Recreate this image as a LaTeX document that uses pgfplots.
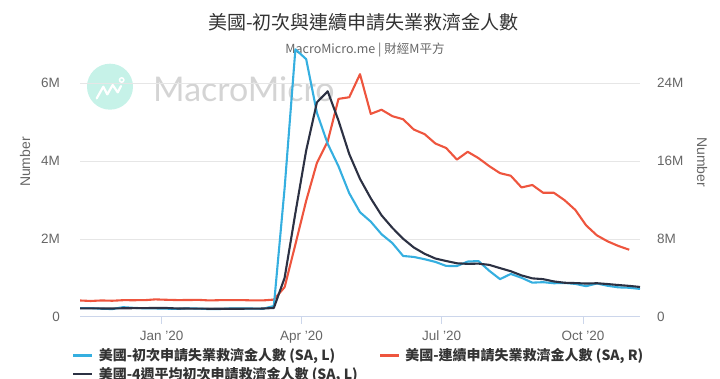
\documentclass[border=0pt]{standalone}
\usepackage{fontspec}
\setmainfont{Liberation Sans}
\newfontfamily\cjk{Noto Sans CJK TC}
\newfontfamily\wm{Lato}
\usepackage{pgfplots}
\usepackage{pgfplotstable}
\pgfplotsset{compat=1.18}
\definecolor{cblue}{HTML}{35AFE0}
\definecolor{cred}{HTML}{EE553E}
\definecolor{cblack}{HTML}{2C3143}
\definecolor{cgrid}{HTML}{E6E6E6}
\definecolor{caxis}{HTML}{CCD6EB}
\definecolor{c666}{HTML}{666666}
\definecolor{c333}{HTML}{333333}
\definecolor{wmgreen}{HTML}{C6F2E8}
\definecolor{wmgray}{HTML}{D4D4D4}

\pgfplotstableread{
d init avg
-53 0.227 0.221
-46 0.228 0.221
-39 0.213 0.219
-32 0.203 0.218
-25 0.252 0.224
-18 0.234 0.226
-11 0.222 0.228
-4 0.220 0.232
3 0.214 0.231
10 0.207 0.219
17 0.223 0.217
24 0.216 0.215
31 0.203 0.212
38 0.205 0.212
45 0.219 0.211
52 0.219 0.212
59 0.217 0.215
66 0.211 0.217
73 0.282 0.232
80 3.307 1.005
87 6.867 2.667
94 6.615 4.268
101 5.237 5.506
108 4.442 5.790
115 3.867 5.040
122 3.176 4.180
129 2.687 3.543
136 2.446 3.044
143 2.123 2.608
150 1.897 2.288
157 1.566 2.008
164 1.540 1.782
171 1.482 1.621
178 1.413 1.500
185 1.310 1.436
192 1.307 1.378
199 1.422 1.363
206 1.435 1.369
213 1.186 1.337
220 0.971 1.254
227 1.104 1.174
234 1.006 1.067
241 0.881 0.991
248 0.893 0.971
255 0.866 0.912
262 0.873 0.878
269 0.849 0.870
276 0.790 0.858
283 0.860 0.866
290 0.800 0.845
297 0.760 0.820
304 0.750 0.798
311 0.720 0.770
}\leftdata

\pgfplotstableread{
d cont
-53 1.693
-46 1.644
-39 1.697
-32 1.667
-25 1.725
-18 1.722
-11 1.728
-4 1.805
3 1.768
10 1.737
17 1.740
24 1.759
31 1.698
38 1.727
45 1.724
52 1.734
59 1.703
66 1.702
73 1.784
80 3.059
87 7.446
94 11.914
101 15.819
108 18.011
115 22.377
122 22.548
129 24.912
136 20.838
143 21.268
150 20.606
157 20.289
164 19.231
171 18.760
178 17.800
185 17.338
192 16.151
199 16.951
206 16.300
213 15.480
220 14.759
227 14.492
234 13.292
241 13.544
248 12.747
255 12.747
262 11.979
269 10.976
276 9.397
283 8.373
290 7.756
297 7.285
304 6.900
}\rightdata

\begin{document}
\begin{tikzpicture}
\path[use as bounding box] (0pt,0pt) rectangle (720pt,379pt);
% watermark
\fill[wmgreen] (110pt,292.3pt) circle (23pt);
\draw[white, line width=2.2pt, line join=round, line cap=round]
  (96.7pt,280.6pt) -- (103.3pt,292.3pt) -- (107.3pt,284.6pt) -- (112.7pt,294pt) -- (117.7pt,286.6pt) -- (121pt,293pt);
\draw[white, line width=1.5pt] (121.7pt,299pt) circle (2.2pt);
\node[anchor=west, inner sep=0pt, font=\wm\fontsize{34}{38}\selectfont, text=wmgray] at (153pt,290pt) {MacroMicro};
% titles
\node[font=\cjk\fontsize{19}{22}\selectfont, text=c333] at (363.5pt,357pt) {美國-初次與連續申請失業救濟金人數};
\node[font=\cjk\fontsize{12.5}{14}\selectfont, text=c666] at (365pt,329pt) {MacroMicro.me | 財經M平方};

% right axis (continued claims)
\begin{axis}[
  at={(80pt,62pt)}, anchor=south west, scale only axis,
  width=560pt, height=269pt,
  xmin=-53, xmax=311, ymin=0, ymax=27.6,
  axis x line=none, axis y line*=right,
  y axis line style={draw=none},
  xtick=\empty,
  ytick={0,8,16,24}, yticklabels={0,8M,16M,24M},
  ytick style={draw=none},
  ymajorgrids, grid style={draw=cgrid, line width=1pt},
  yticklabel style={anchor=west, inner sep=0pt, xshift=17pt, font=\fontsize{13.5}{15}\selectfont, text=c666},
  ylabel={Number},
  ylabel style={at={(axis description cs:1.111,0.576)}, anchor=center, rotate=180, font=\fontsize{14}{16}\selectfont, text=c666},
]
\addplot[cred, line width=2.1pt, line join=round] table[x=d, y=cont] {\rightdata};
\end{axis}

% left axis (initial claims)
\begin{axis}[
  at={(80pt,62pt)}, anchor=south west, scale only axis,
  width=560pt, height=269pt,
  xmin=-53, xmax=311, ymin=0, ymax=6.9,
  axis x line*=bottom, axis y line*=left,
  x axis line style={draw=caxis, line width=1pt},
  y axis line style={draw=none},
  xtick={0,91,182,274}, xticklabels={Jan {\char"27}20, Apr {\char"27}20, Jul {\char"27}20, Oct {\char"27}20},
  xtick align=outside, major tick length=7pt,
  xtick style={draw=caxis, line width=1pt},
  xticklabel style={anchor=north, inner sep=0pt, yshift=-7pt, font=\fontsize{13.5}{15}\selectfont, text=c666},
  ytick={0,2,4,6}, yticklabels={0,2M,4M,6M},
  ytick style={draw=none},
  yticklabel style={anchor=east, inner sep=0pt, xshift=-20pt, font=\fontsize{13.5}{15}\selectfont, text=c666},
  ylabel={Number},
  ylabel style={at={(axis description cs:-0.0982,0.576)}, anchor=center, font=\fontsize{14}{16}\selectfont, text=c666},
  legend columns=2,
  legend cell align=left,
  legend image code/.code={\draw[#1, line width=2.6pt] (0pt,0pt) -- (19pt,0pt);},
  legend style={draw=none, fill=none, at={(axis description cs:-0.0143,-0.1134)}, anchor=north west,
    font=\cjk\bfseries\fontsize{14}{16}\selectfont, text=c333, inner sep=0pt,
    nodes={inner sep=1pt}, row sep=3pt,
    /tikz/every odd column/.append style={column sep=4pt},
    /tikz/every even column/.append style={column sep=20pt}},
]
\addplot[cblue, line width=2.1pt, line join=round] table[x=d, y=init] {\leftdata};
\addlegendentry{美國-初次申請失業救濟金人數 (SA, L)}
\addlegendimage{cred}
\addlegendentry{美國-連續申請失業救濟金人數 (SA, R)}
\addplot[cblack, line width=2.1pt, line join=round] table[x=d, y=avg] {\leftdata};
\addlegendentry{美國-4週平均初次申請救濟金人數 (SA, L)}
\end{axis}
\end{tikzpicture}
\end{document}
